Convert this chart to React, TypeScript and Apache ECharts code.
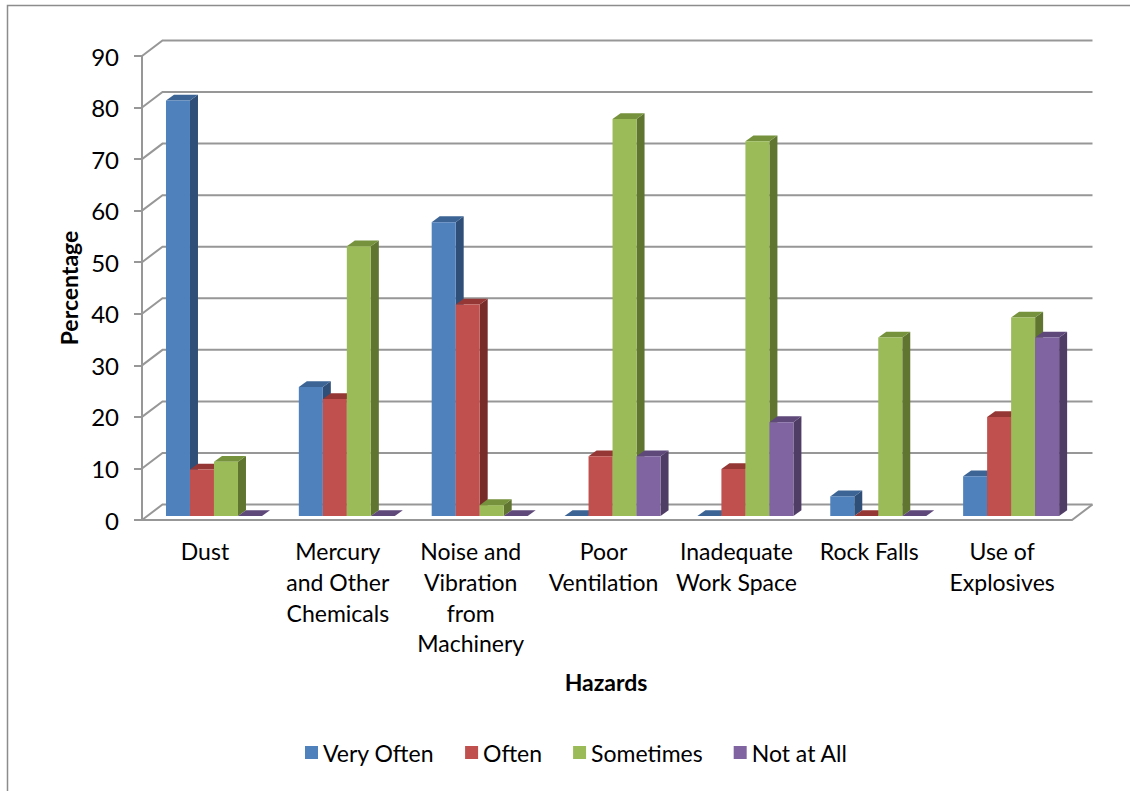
import React, { useEffect, useRef } from "react";
import * as echarts from "echarts";

const categories = [
  "Dust",
  "Mercury\nand Other\nChemicals",
  "Noise and\nVibration\nfrom\nMachinery",
  "Poor\nVentilation",
  "Inadequate\nWork Space",
  "Rock Falls",
  "Use of\nExplosives",
];
const veryOften = [80.6, 25, 57, 0, 0, 3.8, 7.7];
const often = [9, 22.7, 41, 11.6, 9.1, 0, 19.2];
const sometimes = [10.5, 52.3, 2.1, 77, 72.7, 34.6, 38.5];
const notAtAll = [0, 0, 0, 11.6, 18.2, 0, 34.6];
const gridTicks = [0, 10, 20, 30, 40, 50, 60, 70, 80, 90];

const seriesDefs = [
  { name: "Very Often", values: veryOften, front: "#4F81BD", top: "#3C6494", side: "#2F4F78" },
  { name: "Often", values: often, front: "#C0504D", top: "#953735", side: "#772C2A" },
  { name: "Sometimes", values: sometimes, front: "#9BBB59", top: "#76923C", side: "#5F7530" },
  { name: "Not at All", values: notAtAll, front: "#8064A2", top: "#5F497A", side: "#4F3D66" },
];

const FONT = "Lato";
const GRID_LEFT = 138.55;
const GRID_WIDTH = 930;
const AXIS_SHIFT = 3.45;
const BACK_DX = 20.5;
const BACK_DY = 15.5;
const GRID_COLOR = "#979797";

const barRender = (seriesIndex: number, def: any) => (params: any, api: any) => {
  const cat = api.value(0);
  const val = api.value(1);
  const [cx, yTop0] = api.coord([cat, val]);
  const [, yBase0] = api.coord([cat, 0]);
  const w = 24;
  const dx = 8;
  const dy = 5.8;
  const x = cx + 9 - 2 * w + seriesIndex * w;
  const yTop = yTop0 - 4;
  const yBase = yBase0 - 4;
  return {
    type: "group",
    children: [
      {
        type: "polygon",
        shape: { points: [[x + w, yTop], [x + w + dx, yTop - dy], [x + w + dx, yBase - dy], [x + w, yBase]] },
        style: { fill: def.side },
      },
      {
        type: "polygon",
        shape: { points: [[x, yTop], [x + dx, yTop - dy], [x + w + dx, yTop - dy], [x + w, yTop]] },
        style: { fill: def.top },
      },
      {
        type: "rect",
        shape: { x, y: yTop, width: w, height: yBase - yTop },
        style: { fill: def.front },
      },
    ],
  };
};

const wallRender = (params: any, api: any) => {
  const v = api.value(1);
  const [, y] = api.coord([0, v]);
  const left = params.coordSys.x + AXIS_SHIFT;
  const right = params.coordSys.x + params.coordSys.width + AXIS_SHIFT;
  const lineStyle = { stroke: GRID_COLOR, lineWidth: 2, fill: "none" };
  const children: any[] = [
    {
      type: "polyline",
      shape: { points: [[left, y], [left + BACK_DX, y - BACK_DY], [right + BACK_DX, y - BACK_DY]] },
      style: lineStyle,
    },
  ];
  if (v === 0) {
    children.push({
      type: "polyline",
      shape: { points: [[left - 8, y], [right, y], [right + BACK_DX, y - BACK_DY]] },
      style: lineStyle,
    });
  }
  return { type: "group", children };
};

export default function App() {
  const ref = useRef<HTMLDivElement>(null);
  useEffect(() => {
    const chart = echarts.init(ref.current!, undefined, { renderer: "svg" });
    chart.setOption({
      animation: false,
      backgroundColor: "#ffffff",
      textStyle: { fontFamily: FONT },
      grid: { left: GRID_LEFT, top: 56, width: GRID_WIDTH, height: 464 },
      graphic: [
        {
          type: "polyline",
          shape: { points: [[7.5, 791], [7.5, 5.5], [1130, 5.5]] },
          style: { stroke: "#8c8c8c", lineWidth: 1.5, fill: "none" },
        },
      ],
      legend: {
        left: 300,
        top: 736,
        icon: "rect",
        itemWidth: 13,
        itemHeight: 13,
        itemGap: 31,
        data: seriesDefs.map((d) => d.name),
        textStyle: { fontFamily: FONT, fontSize: 23, color: "#000" },
      },
      xAxis: {
        type: "category",
        data: categories,
        name: "Hazards",
        nameLocation: "middle",
        nameGap: 150,
        nameMoveOverlap: false,
        nameTextStyle: { fontFamily: FONT, fontSize: 23, fontWeight: "bold", color: "#000", padding: [0, 0, 0, 5] },
        axisLine: { show: false },
        axisTick: { show: false },
        axisLabel: { interval: 0, margin: 16, fontFamily: FONT, fontSize: 23, lineHeight: 30.7, color: "#000" },
      },
      yAxis: {
        type: "value",
        min: 0,
        max: 90,
        interval: 10,
        offset: -AXIS_SHIFT,
        name: "Percentage",
        nameLocation: "middle",
        nameRotate: 90,
        nameGap: 62,
        nameMoveOverlap: false,
        nameTextStyle: { fontFamily: FONT, fontSize: 23, fontWeight: "bold", color: "#000" },
        axisLine: { show: true, lineStyle: { color: GRID_COLOR, width: 2 } },
        axisTick: { show: true, length: 8, lineStyle: { color: GRID_COLOR, width: 2 } },
        axisLabel: { margin: 23, fontFamily: FONT, fontSize: 24, color: "#000" },
        splitLine: { show: false },
      },
      series: [
        {
          type: "custom",
          name: "walls",
          renderItem: wallRender,
          data: gridTicks.map((t) => [0, t]),
          encode: { x: 0, y: 1 },
          z: 1,
          silent: true,
        },
        ...seriesDefs.map((def, i) => ({
          type: "custom",
          name: def.name,
          renderItem: barRender(i, def),
          data: def.values.map((v, c) => [c, v]),
          encode: { x: 0, y: 1 },
          itemStyle: { color: def.front },
          z: 2 + i,
        })),
      ],
    });
    return () => chart.dispose();
  }, []);
  return (
    <div
      ref={ref}
      style={{ position: "absolute", left: 0, top: 0, width: 1130, height: 791 }}
    />
  );
}
